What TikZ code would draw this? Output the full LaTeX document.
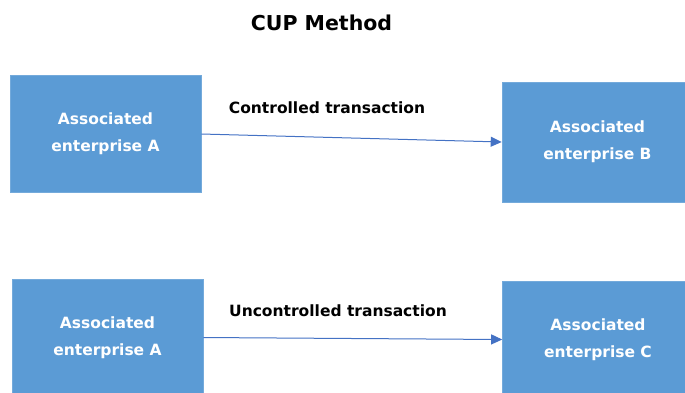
\documentclass[tikz,border=0pt]{standalone}
\usepackage{fontspec}
\setmainfont{DejaVu Sans}
\usetikzlibrary{arrows.meta}
\definecolor{entblue}{HTML}{5B9BD5}
\definecolor{arrblue}{HTML}{4472C4}
\begin{document}
\begin{tikzpicture}[x=1pt,y=-1pt,
  enterprise/.style={fill=entblue,draw=entblue!85!white,line width=0.6pt,minimum width=191pt,minimum height=117pt,
    text=white,align=center,font=\bfseries\fontsize{15.5}{27}\selectfont},
  tlabel/.style={font=\bfseries\fontsize{15.5}{18}\selectfont},
  trans/.style={draw=arrblue,line width=1pt,-{Triangle[length=11pt,width=10pt]}}]
\useasboundingbox (0,0) rectangle (685,392);
\clip (0,0) rectangle (685,392);
\node[font=\bfseries\fontsize{20.5}{24}\selectfont] (title) at (321.5,23) {CUP Method};

\node[enterprise] (assocA) at (105.5,134) {Associated\\enterprise A};
\node[enterprise,minimum height=120pt] (assocB) at (597.5,142) {Associated\\enterprise B};
\node[enterprise] (assocAA) at (107.5,337.5) {Associated\\enterprise A};
\node[enterprise] (assocC) at (598,339.5) {Associated\\enterprise C};

\node[tlabel] (ctrl) at (327,108) {Controlled transaction};
\node[tlabel] (unctrl) at (338,311) {Uncontrolled transaction};

\draw[trans] (assocA.east) -- (assocB.west);
\draw[trans] (assocAA.east) -- (assocC.west);
\end{tikzpicture}
\end{document}
